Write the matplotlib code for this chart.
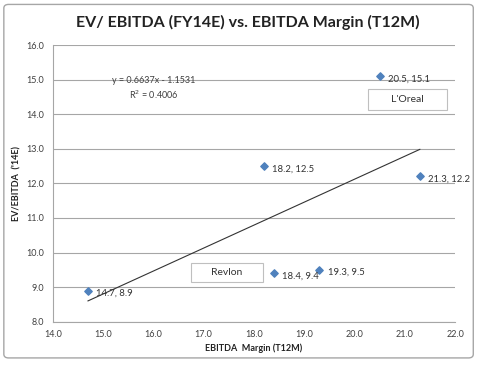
import matplotlib
matplotlib.use('Agg')
from matplotlib import pyplot as plt
from matplotlib.patches import FancyBboxPatch, Rectangle
import numpy as np

plt.rcParams['font.family'] = ['Lato', 'DejaVu Sans']

margin = [14.7, 18.2, 18.4, 19.3, 20.5, 21.3]
ev_ebitda = [8.9, 12.5, 9.4, 9.5, 15.1, 12.2]
slope, intercept = 0.6637, -1.1531
r2 = 0.4006
box_labels = ["L'Oreal", 'Revlon']

fig = plt.figure(figsize=(4.8, 3.69), dpi=100)
fig.patches.append(FancyBboxPatch((0.008, 0.03), 0.978, 0.958, boxstyle='round,pad=0,rounding_size=0.01',
                                  transform=fig.transFigure, fill=False, edgecolor='#a6a6a6', lw=1.0))
ax = fig.add_axes([0.110, 0.128, 0.838, 0.750])

ax.scatter(margin, ev_ebitda, marker='D', s=14, color='#4f81bd', zorder=3)
for x, y in zip(margin, ev_ebitda):
    ax.annotate(f'{x}, {y}', (x, y), xytext=(6, -2), textcoords='offset points',
                fontsize=6.8, color='#333333', va='center')

xs = np.array([min(margin), max(margin)])
ax.plot(xs, slope * xs + intercept, color='#333333', lw=0.8, zorder=2)
ax.text(16.0, 14.75, f'y = {slope}x - {-intercept}\nR$^2$ = {r2}', fontsize=6.5,
        color='#404040', ha='center', va='center', linespacing=1.3)

# company label boxes (x0, y0, width, height)
for label, (x0, y0, w, h) in zip(box_labels, [(20.27, 14.13, 1.57, 0.6), (16.75, 9.15, 1.43, 0.55)]):
    ax.add_patch(Rectangle((x0, y0), w, h, fc='white', ec='#bfbfbf', lw=0.8, zorder=4))
    ax.text(x0 + w / 2, y0 + h / 2, label, fontsize=7.5, ha='center', va='center',
            color='#333333', zorder=5)

ax.set_xlim(14, 22)
ax.set_ylim(8, 16)
ax.set_xticks(np.arange(14, 22.1, 1))
ax.set_yticks(np.arange(8, 16.1, 1))
ax.xaxis.set_major_formatter(plt.FormatStrFormatter('%.1f'))
ax.yaxis.set_major_formatter(plt.FormatStrFormatter('%.1f'))
ax.tick_params(labelsize=6.5, colors='#404040', length=0, pad=6)
ax.grid(axis='y', color='#a6a6a6', lw=0.8)
ax.set_axisbelow(True)
for s in ['top', 'right']:
    ax.spines[s].set_visible(False)
for s in ['left', 'bottom']:
    ax.spines[s].set_color('#a6a6a6')
    ax.spines[s].set_linewidth(0.8)

ax.set_xlabel('EBITDA  Margin (T12M)', fontsize=6.5, fontweight='bold', color='#222222', labelpad=3)
ax.set_ylabel("EV/EBITDA  ('14E)", fontsize=6.5, fontweight='bold', color='#222222', labelpad=4)
fig.text(0.517, 0.94, 'EV/ EBITDA (FY14E) vs. EBITDA Margin (T12M)', fontsize=11.5,
         fontweight='bold', ha='center', va='center', color='#222222')

fig.savefig('out.png', dpi=100)
